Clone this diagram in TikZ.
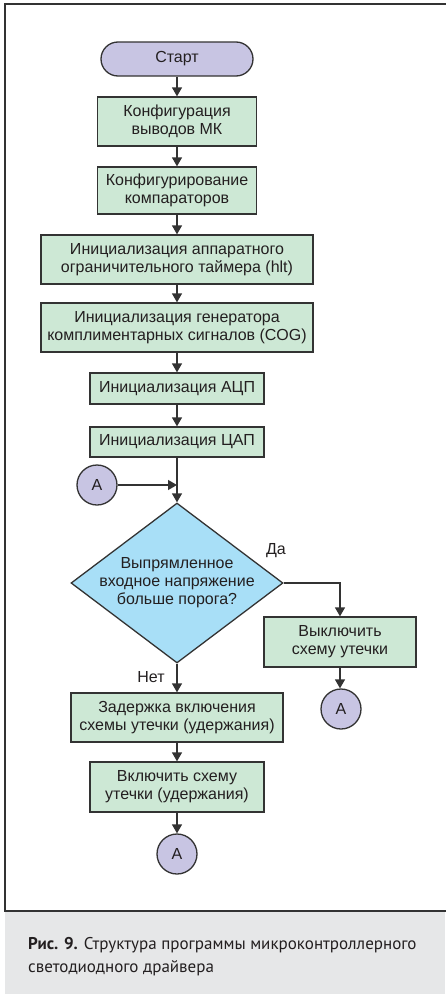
\documentclass[tikz,border=0pt]{standalone}
\usepackage{fontspec}
\setmainfont{Liberation Sans}
\newfontfamily\capfont{PT Sans}
\usetikzlibrary{shapes.geometric,arrows.meta}
\definecolor{lc}{HTML}{333333}
\definecolor{boxg}{HTML}{CDE8D5}
\definecolor{lav}{HTML}{C8C5E3}
\definecolor{dia}{HTML}{A8DFF7}
\definecolor{capg}{HTML}{E6E7E8}
\definecolor{capt}{HTML}{231F20}
\begin{document}
\begin{tikzpicture}[x=1pt,y=-1pt,
  every node/.style={font=\fontsize{16}{18}\selectfont, text=capt},
  proc/.style={draw=lc, line width=1.3pt, fill=boxg, align=center, inner sep=0pt},
  term/.style={draw=lc, line width=1.3pt, fill=lav, rounded corners=17pt, minimum width=152pt, minimum height=34pt, inner sep=0pt},
  conn/.style={circle, draw=lc, line width=1.3pt, fill=lav, minimum size=40pt, inner sep=0pt},
  decis/.style={diamond, draw=lc, line width=1.3pt, fill=dia, minimum width=212pt, minimum height=160pt, aspect=1.325, inner sep=0pt},
  arr/.style={draw=lc, line width=1.3pt, -{Triangle[length=9pt,width=10pt]}},
  capline/.style={font=\capfont\fontsize{17}{20}\selectfont, text=capt, anchor=base west, inner sep=0pt}
  ]
\useasboundingbox (0,0) rectangle (445,996);
% frame and caption area
\fill[capg] (5,911) rectangle (445,994);
\draw[lc, line width=1.2pt] (446,4) -- (5,4) -- (5,911) -- (446,911);
\node[capline] (cap1) at (28,949) {{\bfseries Рис. 9.} Структура программы микроконтроллерного};
\node[capline] (cap2) at (28,972) {светодиодного драйвера};

% nodes
\node[term] (start) at (177,59) {Старт};
\node[proc, minimum width=159pt, minimum height=49pt] (b1) at (177,121.5) {Конфигурация\\выводов МК};
\node[proc, minimum width=159pt, minimum height=47pt] (b2) at (177,190.5) {Конфигурирование\\компараторов};
\node[proc, minimum width=272pt, minimum height=49pt] (b3) at (177,259.5) {Инициализация аппаратного\\ограничительного таймера (hlt)};
\node[proc, minimum width=272pt, minimum height=49pt] (b4) at (177,327.5) {Инициализация генератора\\комплиментарных сигналов (COG)};
\node[proc, minimum width=174pt, minimum height=31pt] (b5) at (177,388.5) {Инициализация АЦП};
\node[proc, minimum width=174pt, minimum height=30pt] (b6) at (177,442) {Инициализация ЦАП};
\node[conn] (a1) at (97,485) {A};
\node[decis] (dec) at (177,583) {};
\node[align=center, inner sep=0pt] (dect) at (177,583) {Выпрямленное\\входное напряжение\\больше порога?};
\node[inner sep=0pt] (yes) at (276,551) {Да};
\node[inner sep=0pt] (no) at (151,677) {Нет};
\node[proc, minimum width=152pt, minimum height=50pt] (b7) at (340,642) {Выключить\\схему утечки};
\node[conn] (a2) at (341,709) {A};
\node[proc, minimum width=212pt, minimum height=49pt] (b8) at (177,717.5) {Задержка включения\\схемы утечки (удержания)};
\node[proc, minimum width=174pt, minimum height=50pt] (b9) at (177,787) {Включить схему\\утечки (удержания)};
\node[conn] (a3) at (177,854) {A};

% connectors
\draw[arr] (start) -- (b1);
\draw[arr] (b1) -- (b2);
\draw[arr] (b2) -- (b3);
\draw[arr] (b3) -- (b4);
\draw[arr] (b4) -- (b5);
\draw[arr] (b5) -- (b6);
\draw[arr] (b6) -- (dec.north);
\draw[arr] (a1.east) -- (a1.east -| b6.south);
\draw[arr] (dec.east) -| (b7.north);
\draw[arr] (b7.south) -- (b7.south |- a2.north);
\draw[arr] (dec.south) -- (b8.north);
\draw[arr] (b8) -- (b9);
\draw[arr] (b9) -- (a3);
\end{tikzpicture}
\end{document}
